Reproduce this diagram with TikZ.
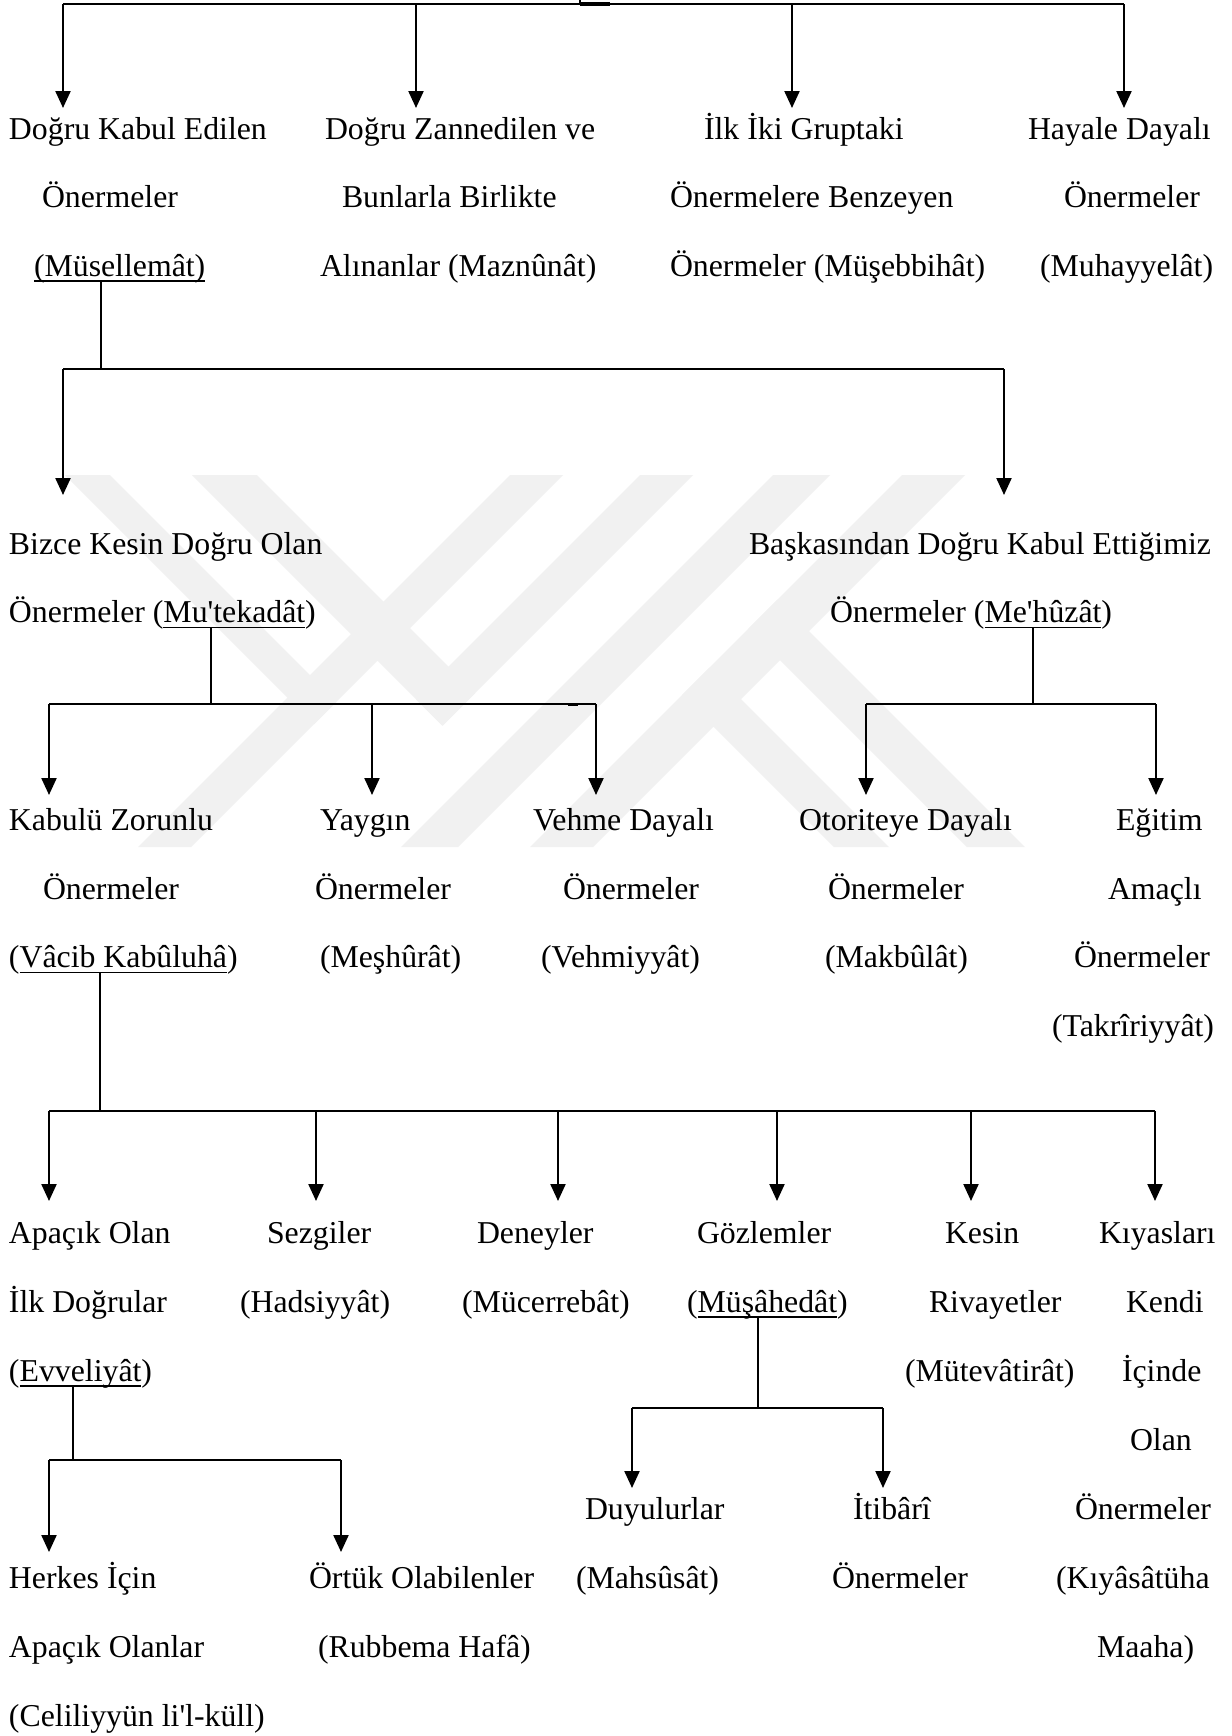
\documentclass[tikz,border=0pt]{standalone}
\usepackage{fontspec}
\newfontfamily\lserif{Liberation Serif}
\usetikzlibrary{arrows.meta}
\definecolor{wm}{RGB}{241,241,241}
\begin{document}
\begin{tikzpicture}[x=0.5pt,y=-0.5pt,
  lbl/.style={anchor=base west,inner sep=0pt,outer sep=0pt,font=\lserif\fontsize{15.9pt}{19pt}\selectfont},
  arr/.style={line width=1.1pt,-{Triangle[length=8.5pt,width=7.5pt]}},
  bar/.style={line width=1.1pt},
  conn/.style={line width=0.65pt},
  uln/.style={line width=0.75pt},
  wmk/.style={fill=wm,draw=none}]
\useasboundingbox (0,0) rectangle (1232,1736);
\fill[white] (0,0) rectangle (1232,1736);

% ---- watermark ----
\fill[wmk] (65,475) -- (110,475) -- (336.5,701.5) -- (314,724) -- cycle;
\fill[wmk] (510,475) -- (563,475) -- (191,847) -- (138,847) -- cycle;
\fill[wmk] (192,475) -- (257,475) -- (475,693) -- (442.5,725.5) -- cycle;
\fill[wmk] (640,475) -- (693,475) -- (442.5,725.5) -- (416,699) -- cycle;
\fill[wmk] (773,475) -- (830,475) -- (458,847) -- (401,847) -- cycle;
\fill[wmk] (902,475) -- (965,475) -- (593,847) -- (530,847) -- cycle;
\fill[wmk] (682,695) -- (709.5,667.5) -- (889,847) -- (834,847) -- cycle;
\fill[wmk] (748.5,628.5) -- (777.5,599.5) -- (1025,847) -- (967,847) -- cycle;

% ---- level 1 ----
\coordinate (root) at (580,0);
\coordinate (tb) at (580,4);
\coordinate (ta1) at (63,108);
\coordinate (ta2) at (416,108);
\coordinate (ta3) at (792,108);
\coordinate (ta4) at (1124,108);
\draw[conn] (root) -- (tb);
\draw[bar] (ta1 |- tb) -- (ta4 |- tb);
\draw[line width=1.6pt] (tb) -- ++(30,0);
\foreach \t in {ta1,ta2,ta3,ta4} \draw[arr] (\t |- tb) -- (\t);

\node[lbl] (a1) at (9,139) {Doğru Kabul Edilen};
\node[lbl] (a2) at (42,207.5) {Önermeler};
\node[lbl] (a3) at (34,276) {(Müsellemât)};
\node[lbl] (b1) at (325,139) {Doğru Zannedilen ve};
\node[lbl] (b2) at (342,207.5) {Bunlarla Birlikte};
\node[lbl] (b3) at (320,276) {Alınanlar (Maznûnât)};
\node[lbl] (c1) at (704,139) {İlk İki Gruptaki};
\node[lbl] (c2) at (670,207.5) {Önermelere Benzeyen};
\node[lbl] (c3) at (670,276) {Önermeler (Müşebbihât)};
\node[lbl] (d1) at (1028,139) {Hayale Dayalı};
\node[lbl] (d2) at (1064,207.5) {Önermeler};
\node[lbl] (d3) at (1040,276) {(Muhayyelât)};
\draw[uln] ([yshift=-2.4pt]a3.base west) -- ([yshift=-2.4pt]a3.base east);

% ---- level 2 ----
\coordinate (ja) at (101,369);
\coordinate (ua) at ([yshift=-2.4pt]a3.base);
\coordinate (tb1) at (63,495);
\coordinate (tb2) at (1004,495);
\draw[conn] (ua -| ja) -- (ja);
\draw[bar] (tb1 |- ja) -- (tb2 |- ja);
\foreach \t in {tb1,tb2} \draw[arr] (\t |- ja) -- (\t);

\node[lbl] (e1) at (9,554) {Bizce Kesin Doğru Olan};
\node[lbl] (e2) at (9,622.5) {Önermeler (};
\node[lbl] (e2u) at (e2.base east) {Mu'tekadât};
\node[lbl] (e2e) at (e2u.base east) {)};
\draw[uln] ([yshift=-2.4pt]e2u.base west) -- ([yshift=-2.4pt]e2u.base east);
\node[lbl] (f1) at (749,554) {Başkasından Doğru Kabul Ettiğimiz};
\node[lbl] (f2) at (830,622.5) {Önermeler (};
\node[lbl] (f2u) at (f2.base east) {Me'hûzât};
\node[lbl] (f2e) at (f2u.base east) {)};
\draw[uln] ([yshift=-2.4pt]f2u.base west) -- ([yshift=-2.4pt]f2u.base east);

% ---- level 3 ----
\coordinate (jb) at (211,704);
\coordinate (ue) at ([yshift=-2.4pt]e2u.base);
\coordinate (tc1) at (49,795);
\coordinate (tc2) at (372,795);
\coordinate (tc3) at (596,795);
\draw[conn] (ue -| jb) -- (jb);
\draw[bar] (tc1 |- jb) -- (tc3 |- jb);
\coordinate (jbr) at (tc3 |- jb);
\draw[line width=1.5pt] ([xshift=-14pt]jbr) -- ([xshift=-9pt]jbr);
\foreach \t in {tc1,tc2,tc3} \draw[arr] (\t |- jb) -- (\t);

\coordinate (jc) at (1033,704);
\coordinate (uf) at ([yshift=-2.4pt]f2u.base);
\coordinate (td1) at (866,795);
\coordinate (td2) at (1156,795);
\draw[conn] (uf -| jc) -- (jc);
\draw[bar] (td1 |- jc) -- (td2 |- jc);
\foreach \t in {td1,td2} \draw[arr] (\t |- jc) -- (\t);

\node[lbl] (g1) at (9,830) {Kabulü Zorunlu};
\node[lbl] (g2) at (43,899) {Önermeler};
\node[lbl] (g3) at (9,967.5) {(};
\node[lbl] (g3u) at (g3.base east) {Vâcib Kabûluhâ};
\node[lbl] (g3e) at (g3u.base east) {)};
\draw[uln] ([yshift=-2.4pt]g3u.base west) -- ([yshift=-2.4pt]g3u.base east);
\node[lbl] (h1) at (320,830) {Yaygın};
\node[lbl] (h2) at (315,899) {Önermeler};
\node[lbl] (h3) at (320,967.5) {(Meşhûrât)};
\node[lbl] (i1) at (533,830) {Vehme Dayalı};
\node[lbl] (i2) at (563,899) {Önermeler};
\node[lbl] (i3) at (541,967.5) {(Vehmiyyât)};
\node[lbl] (k1) at (799,830) {Otoriteye Dayalı};
\node[lbl] (k2) at (828,899) {Önermeler};
\node[lbl] (k3) at (825,967.5) {(Makbûlât)};
\node[lbl] (l1) at (1116,830) {Eğitim};
\node[lbl] (l2) at (1108,899) {Amaçlı};
\node[lbl] (l3) at (1074,967.5) {Önermeler};
\node[lbl] (l4) at (1052,1036) {(Takrîriyyât)};

% ---- level 4 ----
\coordinate (jd) at (100,1111);
\coordinate (ug) at ([yshift=-2.4pt]g3u.base);
\coordinate (te1) at (49,1201);
\coordinate (te2) at (316,1201);
\coordinate (te3) at (558,1201);
\coordinate (te4) at (777,1201);
\coordinate (te5) at (971,1201);
\coordinate (te6) at (1155,1201);
\draw[conn] (ug -| jd) -- (jd);
\draw[bar] (te1 |- jd) -- (te6 |- jd);
\foreach \t in {te1,te2,te3,te4,te5,te6} \draw[arr] (\t |- jd) -- (\t);

\node[lbl] (m1) at (9,1243) {Apaçık Olan};
\node[lbl] (m2) at (9,1312) {İlk Doğrular};
\node[lbl] (m3) at (9,1381) {(};
\node[lbl] (m3u) at (m3.base east) {Evveliyât};
\node[lbl] (m3e) at (m3u.base east) {)};
\draw[uln] ([yshift=-2.4pt]m3u.base west) -- ([yshift=-2.4pt]m3u.base east);
\node[lbl] (n1) at (267,1243) {Sezgiler};
\node[lbl] (n2) at (240,1312) {(Hadsiyyât)};
\node[lbl] (o1) at (477,1243) {Deneyler};
\node[lbl] (o2) at (462,1312) {(Mücerrebât)};
\node[lbl] (p1) at (697,1243) {Gözlemler};
\node[lbl] (p2) at (687,1312) {(};
\node[lbl] (p2u) at (p2.base east) {Müşâhedât};
\node[lbl] (p2e) at (p2u.base east) {)};
\draw[uln] ([yshift=-2.4pt]p2u.base west) -- ([yshift=-2.4pt]p2u.base east);
\node[lbl] (q1) at (945,1243) {Kesin};
\node[lbl] (q2) at (929,1312) {Rivayetler};
\node[lbl] (q3) at (905,1381) {(Mütevâtirât)};
\node[lbl] (r1) at (1099,1243) {Kıyasları};
\node[lbl] (r2) at (1126,1312) {Kendi};
\node[lbl] (r3) at (1122,1381) {İçinde};
\node[lbl] (r4) at (1130,1450) {Olan};
\node[lbl] (r5) at (1075,1519) {Önermeler};
\node[lbl] (r6) at (1056,1588) {(Kıyâsâtüha};
\node[lbl] (r7) at (1097,1657) {Maaha)};

% ---- level 5: Evveliyat ----
\coordinate (jm) at (73,1460);
\coordinate (um) at ([yshift=-2.4pt]m3u.base);
\coordinate (tm1) at (49,1552);
\coordinate (tm2) at (341,1552);
\draw[conn] (um -| jm) -- (jm);
\draw[bar] (tm1 |- jm) -- (tm2 |- jm);
\foreach \t in {tm1,tm2} \draw[arr] (\t |- jm) -- (\t);

\node[lbl] (s1) at (9,1588) {Herkes İçin};
\node[lbl] (s2) at (9,1657) {Apaçık Olanlar};
\node[lbl] (s3) at (9,1726) {(Celiliyyün li'l-küll)};
\node[lbl] (v1) at (309,1588) {Örtük Olabilenler};
\node[lbl] (v2) at (318,1657) {(Rubbema Hafâ)};

% ---- level 5: Musahedat ----
\coordinate (jp) at (758,1408);
\coordinate (up) at ([yshift=-2.4pt]p2u.base);
\coordinate (tp1) at (632,1488);
\coordinate (tp2) at (883,1488);
\draw[conn] (up -| jp) -- (jp);
\draw[bar] (tp1 |- jp) -- (tp2 |- jp);
\foreach \t in {tp1,tp2} \draw[arr] (\t |- jp) -- (\t);

\node[lbl] (w1) at (585,1519) {Duyulurlar};
\node[lbl] (w2) at (576,1588) {(Mahsûsât)};
\node[lbl] (x1) at (853,1519) {İtibârî};
\node[lbl] (x2) at (832,1588) {Önermeler};
\end{tikzpicture}
\end{document}
